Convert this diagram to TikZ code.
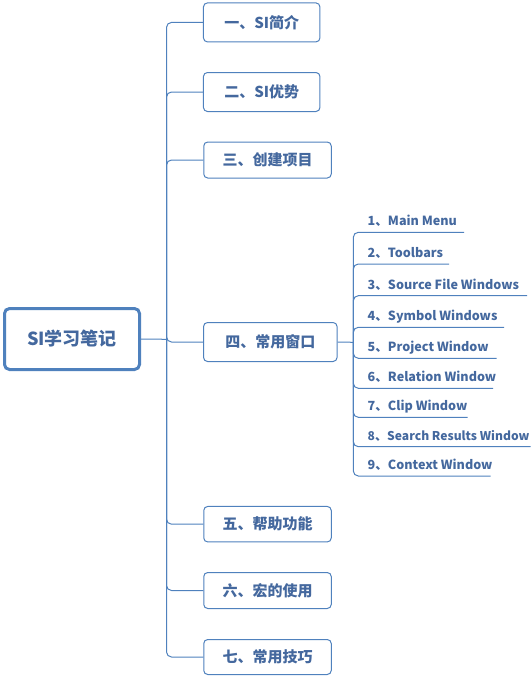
\documentclass[tikz,border=0pt]{standalone}
\usepackage{fontspec}
\setmainfont{Noto Sans CJK SC}
\definecolor{lineblue}{RGB}{79,129,189}
\definecolor{textblue}{RGB}{68,104,158}
\begin{document}
\begin{tikzpicture}[x=1pt,y=-1pt,
  conn/.style={draw=lineblue, line width=1pt, rounded corners=5pt},
  topic/.style={draw=lineblue, line width=1pt, rounded corners=4pt, fill=white, text=textblue,
    font=\bfseries\fontsize{15}{17}\selectfont, inner sep=0pt},
  rootbox/.style={draw=lineblue, line width=3pt, rounded corners=5pt, fill=white, text=textblue,
    font=\bfseries\fontsize{18}{20}\selectfont, minimum width=135pt, minimum height=61pt, inner sep=0pt},
  subitem/.style={text=textblue, font=\bfseries\fontsize{12.6}{14}\selectfont, inner sep=0pt, anchor=base west},
  subnarrow/.style={font=\bfseries\fontsize{12.1}{14}\selectfont}]
\useasboundingbox (0,0) rectangle (531,678);

\node[rootbox] (root) at (72,339) {SI学习笔记};

\node[topic, minimum width=116.5pt, minimum height=39pt] (b1) at (261.7,22.4) {一、SI简介};
\node[topic, minimum width=116.5pt, minimum height=39pt] (b2) at (261.7,92) {二、SI优势};
\node[topic, minimum width=127.5pt, minimum height=36pt] (b3) at (267.5,160) {三、创建项目};
\node[topic, minimum width=133.5pt, minimum height=39pt] (b4) at (270.3,342) {四、常用窗口};
\node[topic, minimum width=127.5pt, minimum height=35.5pt] (b5) at (267.5,524.2) {五、帮助功能};
\node[topic, minimum width=127.5pt, minimum height=36pt] (b6) at (267.5,590.5) {六、宏的使用};
\node[topic, minimum width=127.5pt, minimum height=35pt] (b7) at (267.5,657) {七、常用技巧};

\coordinate (j1) at (166.5,339.3);
\draw[conn] (root.east) -- (j1);
\foreach \b in {b1,b2,b3,b4,b5,b6,b7} \draw[conn] (j1) |- (\b.west);

\coordinate (j2) at (353.3,342.3);
\draw[conn] (b4.east) -- (j2);

\node[subitem] (s1) at (367.5,225.8) {1、Main Menu};
\node[subitem] (s2) at (367.5,257.5) {2、Toolbars};
\node[subitem] (s3) at (367.5,289.2) {3、Source File Windows};
\node[subitem] (s4) at (367.5,320.8) {4、Symbol Windows};
\node[subitem] (s5) at (367.5,351.8) {5、Project Window};
\node[subitem] (s6) at (367.5,381.8) {6、Relation Window};
\node[subitem] (s7) at (367.5,410.8) {7、Clip Window};
\node[subitem, subnarrow] (s8) at (367.5,440.2) {8、Search Results Window};
\node[subitem] (s9) at (367.5,469.5) {9、Context Window};

\coordinate (u1) at (464,232.3);
\coordinate (u2) at (449,264);
\coordinate (u3) at (527,295.7);
\coordinate (u4) at (504,327.3);
\coordinate (u5) at (496.7,358.3);
\coordinate (u6) at (493,388.3);
\coordinate (u7) at (467.7,417.3);
\coordinate (u8) at (530.5,446.7);
\coordinate (u9) at (490.7,476);
\foreach \u in {u1,u2,u3,u4,u5,u6,u7,u8,u9} \draw[conn] (j2) |- (\u);
\end{tikzpicture}
\end{document}
